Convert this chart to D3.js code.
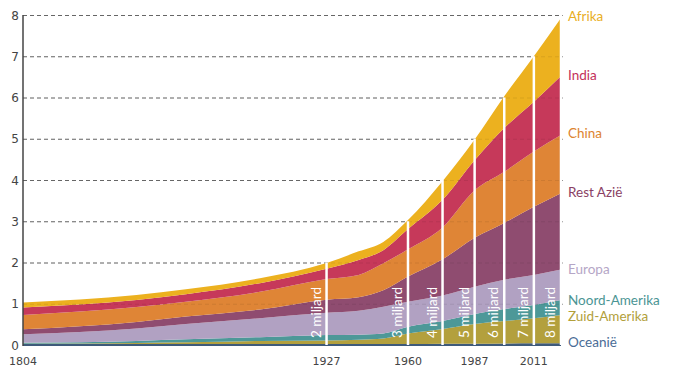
<!DOCTYPE html>
<html>
<head>
<meta charset="utf-8">
<script src="https://cdn.jsdelivr.net/npm/d3@7"></script>
<style>
  html, body { margin: 0; padding: 0; background: #fff; }
  svg { display: block; }
</style>
</head>
<body>
<svg id="chart" width="680" height="378"></svg>
<script>
// ---- data (billions of people) ----
const years        = [1804, 1850, 1870, 1900, 1927, 1940, 1950, 1960, 1974, 1987, 1999, 2011, 2022];
const oceanie      = [0.01, 0.01, 0.01, 0.015, 0.02, 0.02, 0.02, 0.02, 0.03, 0.03, 0.035, 0.04, 0.04];
const zuidAmerika  = [0.02, 0.04, 0.055, 0.085, 0.09, 0.11, 0.14, 0.26, 0.36, 0.48, 0.545, 0.61, 0.69];
const noordAmerika = [0.025, 0.05, 0.075, 0.09, 0.13, 0.12, 0.12, 0.16, 0.19, 0.24, 0.29, 0.32, 0.36];
const europa       = [0.205, 0.30, 0.37, 0.46, 0.54, 0.58, 0.65, 0.61, 0.62, 0.66, 0.71, 0.73, 0.74];
const restAzie     = [0.12, 0.16, 0.18, 0.21, 0.32, 0.33, 0.40, 0.61, 0.88, 1.19, 1.38, 1.65, 1.85];
const china        = [0.35, 0.36, 0.36, 0.43, 0.50, 0.54, 0.65, 0.66, 0.77, 1.15, 1.24, 1.34, 1.41];
const india        = [0.18, 0.17, 0.18, 0.21, 0.25, 0.36, 0.32, 0.49, 0.67, 0.73, 1.06, 1.21, 1.43];
const afrika       = [0.12, 0.12, 0.12, 0.12, 0.14, 0.21, 0.20, 0.22, 0.45, 0.50, 0.77, 1.10, 1.41];

const seriesNames  = ["Oceanië", "Zuid-Amerika", "Noord-Amerika", "Europa", "Rest Azië", "China", "India", "Afrika"];
const seriesValues = [oceanie, zuidAmerika, noordAmerika, europa, restAzie, china, india, afrika];

const milestoneYears  = [1927, 1960, 1974, 1987, 1999, 2011, 2022];
const milestoneValues = [2, 3, 4, 5, 6, 7, 8];
const milestoneLabels = ["2 miljard", "3 miljard", "4 miljard", "5 miljard", "6 miljard", "7 miljard", "8 miljard"];

const xTickYears = [1804, 1927, 1960, 1987, 2011];
const yTickValues = [0, 1, 2, 3, 4, 5, 6, 7, 8];

// ---- styles ----
const areaColors  = {
  "Oceanië": "#3e5a7a", "Zuid-Amerika": "#b3a03d", "Noord-Amerika": "#4d9898",
  "Europa": "#b1a1c2", "Rest Azië": "#8f4c70", "China": "#df8536",
  "India": "#c6395a", "Afrika": "#ecb11f"
};
const labelColors = {
  "Oceanië": "#4a6c96", "Zuid-Amerika": "#b2a03a", "Noord-Amerika": "#4b9594",
  "Europa": "#b5a6c6", "Rest Azië": "#8a3f64", "China": "#dd8430",
  "India": "#c4305a", "Afrika": "#e9ae1f"
};
const labelBaselines = {
  "Afrika": 21, "India": 80, "China": 138, "Rest Azië": 197,
  "Europa": 274, "Noord-Amerika": 305, "Zuid-Amerika": 321, "Oceanië": 347
};

const svg = d3.select("#chart");
const x = d3.scaleLinear().domain([1804, 2022]).range([23, 561]);
const y = d3.scaleLinear().domain([0, 8]).range([345, 15]);

// table for stack
const table = years.map((yr, i) => {
  const row = { year: yr };
  seriesNames.forEach((n, k) => row[n] = seriesValues[k][i]);
  return row;
});
const stacked = d3.stack().keys(seriesNames)(table);

// gridlines under areas
const gridG = svg.append("g");
gridG.selectAll("line").data(yTickValues.filter(v => v > 0)).join("line")
  .attr("x1", x(1804)).attr("x2", x(2022) + 2)
  .attr("y1", d => y(d) + 0.5).attr("y2", d => y(d) + 0.5)
  .attr("stroke", "#6f6f6f").attr("stroke-width", 1)
  .attr("stroke-dasharray", "4,3");

// areas
const area = d3.area()
  .x(d => x(d.data.year))
  .y0(d => y(d[0]))
  .y1(d => y(d[1]))
  .curve(d3.curveMonotoneX);

svg.append("g").selectAll("path").data(stacked).join("path")
  .attr("d", area)
  .attr("fill", d => areaColors[d.key]);

// faint gridlines over areas
svg.append("g").selectAll("line").data(yTickValues.filter(v => v > 0)).join("line")
  .attr("x1", x(1804)).attr("x2", x(2022))
  .attr("y1", d => y(d) + 0.5).attr("y2", d => y(d) + 0.5)
  .attr("stroke", "#000").attr("stroke-opacity", 0.08).attr("stroke-width", 1)
  .attr("stroke-dasharray", "4,3");

// baseline
svg.append("line")
  .attr("x1", x(1804)).attr("x2", x(2022))
  .attr("y1", y(0)).attr("y2", y(0))
  .attr("stroke", "#3e5a7a").attr("stroke-width", 2);

// milestone lines
const ms = svg.append("g");
milestoneYears.forEach((yr, i) => {
  ms.append("line")
    .attr("x1", x(yr)).attr("x2", x(yr))
    .attr("y1", y(0)).attr("y2", y(milestoneValues[i]))
    .attr("stroke", "#fff").attr("stroke-width", 2.5);
  ms.append("text")
    .attr("transform", `translate(${x(yr) - 6},${y(0) - 7}) rotate(-90)`)
    .attr("fill", "#fff")
    .attr("font-family", "Lato, 'Open Sans', sans-serif")
    .attr("font-size", 13.5)
    .text(milestoneLabels[i]);
});

// left axis line
svg.append("line")
  .attr("x1", x(1804)).attr("x2", x(1804))
  .attr("y1", y(8)).attr("y2", y(0) + 1)
  .attr("stroke", "#444").attr("stroke-width", 1.5);

// y tick labels
svg.append("g").selectAll("text").data(yTickValues).join("text")
  .attr("x", 19).attr("y", d => y(d) + 4.5)
  .attr("text-anchor", "end")
  .attr("font-family", "'DejaVu Sans', sans-serif")
  .attr("font-size", 12)
  .attr("fill", "#444")
  .text(d => d);

// x tick labels
svg.append("g").selectAll("text").data(xTickYears).join("text")
  .attr("x", d => x(d)).attr("y", 365)
  .attr("text-anchor", "middle")
  .attr("font-family", "'DejaVu Sans', sans-serif")
  .attr("font-size", 11)
  .attr("fill", "#444")
  .text(d => d);

// series labels
svg.append("g").selectAll("text").data(seriesNames).join("text")
  .attr("x", 568).attr("y", d => labelBaselines[d])
  .attr("font-family", "Lato, 'Open Sans', sans-serif")
  .attr("font-size", 13.5)
  .attr("fill", d => labelColors[d])
  .text(d => d);
</script>
</body>
</html>
